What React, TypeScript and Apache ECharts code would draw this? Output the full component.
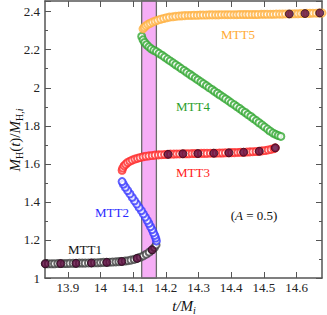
import React, { useEffect, useRef } from "react";
import * as echarts from "echarts";

// [t/M_i, M_H(t)/M_H,i]
const mtt1: number[][] = [
  [13.831, 1.075], [13.840, 1.075], [13.850, 1.075], [13.859, 1.075], [13.869, 1.076],
  [13.878, 1.076], [13.888, 1.076], [13.897, 1.076], [13.906, 1.077], [13.916, 1.077],
  [13.925, 1.077], [13.935, 1.078], [13.944, 1.078], [13.953, 1.078], [13.963, 1.079],
  [13.972, 1.079], [13.981, 1.080], [13.991, 1.080], [14.000, 1.081], [14.009, 1.082],
  [14.019, 1.082], [14.028, 1.083], [14.037, 1.084], [14.047, 1.085], [14.056, 1.086],
  [14.065, 1.087], [14.075, 1.089], [14.084, 1.091], [14.093, 1.094], [14.103, 1.098],
  [14.112, 1.103], [14.121, 1.109], [14.131, 1.116], [14.140, 1.125], [14.149, 1.136],
  [14.158, 1.148], [14.165, 1.160], [14.170, 1.174],
];

const mtt2: number[][] = [
  [14.171, 1.195], [14.169, 1.210], [14.166, 1.224], [14.162, 1.238], [14.158, 1.254],
  [14.153, 1.270], [14.148, 1.287], [14.143, 1.303], [14.137, 1.320], [14.131, 1.337],
  [14.125, 1.354], [14.118, 1.371], [14.111, 1.389], [14.104, 1.406], [14.097, 1.424],
  [14.090, 1.442], [14.083, 1.460], [14.076, 1.477], [14.070, 1.493], [14.066, 1.507],
];

const mtt3: number[][] = [
  [14.066, 1.566], [14.068, 1.578], [14.072, 1.589], [14.077, 1.598], [14.083, 1.607],
  [14.090, 1.614], [14.097, 1.620], [14.105, 1.625], [14.113, 1.629], [14.121, 1.633],
  [14.130, 1.637], [14.139, 1.640], [14.148, 1.642], [14.158, 1.644], [14.167, 1.646],
  [14.177, 1.647], [14.186, 1.648], [14.196, 1.649], [14.205, 1.650], [14.214, 1.651],
  [14.224, 1.651], [14.233, 1.652], [14.242, 1.652], [14.252, 1.653], [14.261, 1.653],
  [14.270, 1.653], [14.280, 1.654], [14.289, 1.654], [14.298, 1.654], [14.308, 1.655],
  [14.317, 1.655], [14.326, 1.655], [14.336, 1.656], [14.345, 1.656], [14.354, 1.656],
  [14.364, 1.657], [14.373, 1.657], [14.382, 1.658], [14.392, 1.658], [14.401, 1.659],
  [14.410, 1.659], [14.420, 1.660], [14.429, 1.661], [14.438, 1.661], [14.448, 1.662],
  [14.457, 1.663], [14.466, 1.664], [14.476, 1.665], [14.485, 1.666], [14.494, 1.668],
  [14.504, 1.670], [14.513, 1.673], [14.522, 1.676], [14.531, 1.680], [14.535, 1.684],
];

const mtt4: number[][] = [
  [14.126, 2.270], [14.130, 2.252], [14.135, 2.238], [14.141, 2.226], [14.148, 2.215],
  [14.155, 2.205], [14.163, 2.197], [14.171, 2.190], [14.179, 2.181], [14.188, 2.171],
  [14.196, 2.161], [14.205, 2.151], [14.213, 2.141], [14.222, 2.131], [14.230, 2.121],
  [14.239, 2.111], [14.247, 2.101], [14.256, 2.091], [14.264, 2.081], [14.273, 2.071],
  [14.281, 2.061], [14.290, 2.051], [14.298, 2.041], [14.307, 2.031], [14.315, 2.021],
  [14.324, 2.011], [14.332, 2.001], [14.341, 1.991], [14.349, 1.981], [14.358, 1.971],
  [14.366, 1.961], [14.375, 1.951], [14.383, 1.941], [14.392, 1.931], [14.400, 1.921],
  [14.409, 1.911], [14.417, 1.901], [14.426, 1.891], [14.434, 1.880], [14.443, 1.870],
  [14.451, 1.859], [14.460, 1.849], [14.468, 1.838], [14.477, 1.827], [14.485, 1.816],
  [14.494, 1.805], [14.502, 1.794], [14.511, 1.783], [14.519, 1.772], [14.528, 1.762],
  [14.536, 1.755], [14.544, 1.749], [14.552, 1.744],
];

const mtt5: number[][] = [
  [14.130, 2.310], [14.134, 2.318], [14.139, 2.326], [14.145, 2.333], [14.152, 2.339],
  [14.159, 2.345], [14.167, 2.350], [14.175, 2.355], [14.184, 2.360], [14.193, 2.364],
  [14.202, 2.368], [14.211, 2.371], [14.221, 2.373], [14.230, 2.375], [14.240, 2.377],
  [14.249, 2.378], [14.258, 2.379], [14.268, 2.380], [14.277, 2.380], [14.286, 2.381],
  [14.296, 2.381], [14.305, 2.382], [14.314, 2.382], [14.324, 2.382], [14.333, 2.383],
  [14.342, 2.383], [14.352, 2.383], [14.361, 2.383], [14.370, 2.384], [14.380, 2.384],
  [14.389, 2.384], [14.398, 2.384], [14.408, 2.384], [14.417, 2.384], [14.426, 2.385],
  [14.436, 2.385], [14.445, 2.385], [14.454, 2.385], [14.464, 2.385], [14.473, 2.385],
  [14.482, 2.385], [14.492, 2.386], [14.501, 2.386], [14.510, 2.386], [14.520, 2.386],
  [14.529, 2.386], [14.538, 2.387], [14.548, 2.387], [14.557, 2.387], [14.566, 2.388],
  [14.576, 2.388], [14.585, 2.388], [14.594, 2.389], [14.604, 2.389], [14.613, 2.390],
  [14.622, 2.390], [14.632, 2.391], [14.641, 2.391], [14.650, 2.392], [14.660, 2.392],
  [14.669, 2.393], [14.678, 2.393],
];

// stable-branch samples (filled dots)
const stable: number[][] = [
  [13.831, 1.075], [13.878, 1.076], [13.925, 1.077], [13.972, 1.079], [14.019, 1.082],
  [14.065, 1.087], [14.112, 1.103], [14.158, 1.148], [14.207, 1.650], [14.252, 1.653],
  [14.298, 1.654], [14.347, 1.656], [14.393, 1.658], [14.438, 1.661], [14.486, 1.666],
  [14.535, 1.684], [14.578, 2.388], [14.626, 2.390], [14.671, 2.393],
];

const band: number[] = [14.126, 14.171];
const xTicks: number[] = [13.9, 14.0, 14.1, 14.2, 14.3, 14.4, 14.5, 14.6];
const xRange: number[] = [13.83, 14.678];
const yRange: number[] = [1, 2.456];

const SERIF = "'Liberation Serif', 'Times New Roman', Times, serif";
const AXIS_COLOR = "#555";

export default function App() {
  const ref = useRef<HTMLDivElement>(null);
  useEffect(() => {
    if (!ref.current) return;
    const chart = echarts.init(ref.current, null, { renderer: "svg" });
    const openSeries = (name: string, data: number[][], color: string, z: number) => ({
      name,
      type: "scatter",
      data,
      symbol: "emptyCircle",
      symbolSize: 7,
      itemStyle: { color, borderColor: color, borderWidth: 0.8 },
      z,
      silent: true,
    });
    const commonX = {
      type: "value",
      min: xRange[0],
      max: xRange[1],
      splitLine: { show: false },
      axisLine: { show: true, lineStyle: { color: AXIS_COLOR, width: 1.5 } },
    };
    const commonY = {
      type: "value",
      min: yRange[0],
      max: yRange[1],
      interval: 0.2,
      splitLine: { show: false },
      axisLine: { show: true, lineStyle: { color: AXIS_COLOR, width: 1.5 } },
      axisTick: { show: true, inside: true, length: 6, lineStyle: { color: AXIS_COLOR } },
      minorTick: { show: true, splitNumber: 2, length: 3, lineStyle: { color: AXIS_COLOR } },
    };
    chart.setOption({
      animation: false,
      backgroundColor: "#fff",
      textStyle: { fontFamily: SERIF },
      grid: { left: 45, right: 5, top: 1, bottom: 37 },
      xAxis: [
        {
          ...commonX,
          position: "bottom",
          axisTick: { show: true, inside: true, length: 6, customValues: xTicks, lineStyle: { color: AXIS_COLOR } },
          axisLabel: {
            customValues: xTicks,
            color: "#222",
            fontFamily: SERIF,
            fontSize: 13,
            margin: 3,
          },
        },
        {
          ...commonX,
          position: "top",
          axisTick: { show: true, inside: true, length: 6, customValues: xTicks, lineStyle: { color: AXIS_COLOR } },
          axisLabel: { show: false, customValues: xTicks },
        },
      ],
      yAxis: [
        {
          ...commonY,
          position: "left",
          axisLabel: { color: "#222", fontFamily: SERIF, fontSize: 13, margin: 5, showMaxLabel: false },
        },
        {
          ...commonY,
          position: "right",
          axisLabel: { show: false },
        },
      ],
      series: [
        openSeries("MTT3", mtt3, "#ff2a2a", 2),
        openSeries("MTT4", mtt4, "#33a833", 2),
        {
          name: "band",
          type: "scatter",
          data: [],
          z: 3,
          silent: true,
          markArea: {
            silent: true,
            itemStyle: {
              color: "rgba(240,120,240,0.6)",
              borderColor: "#6a6a6a",
              borderWidth: 1.3,
            },
            data: [[{ xAxis: band[0] }, { xAxis: band[1] }]],
          },
        },
        openSeries("MTT1", mtt1, "#444444", 4),
        openSeries("MTT2", mtt2, "#3a3aff", 4),
        openSeries("MTT5", mtt5, "#ffb040", 4),
        {
          name: "stable",
          type: "scatter",
          data: stable,
          symbol: "circle",
          symbolSize: 8,
          itemStyle: { color: "#5c0a3e", borderColor: "#1a0010", borderWidth: 0.8 },
          z: 5,
          silent: true,
        },
      ],
      graphic: [
        { type: "text", x: 85, y: 249, z: 10, style: { text: "MTT1", fill: "#111", font: `13px ${SERIF}`, align: "center", verticalAlign: "middle" } },
        { type: "text", x: 112, y: 212, z: 10, style: { text: "MTT2", fill: "#2a2aff", font: `13px ${SERIF}`, align: "center", verticalAlign: "middle" } },
        { type: "text", x: 193, y: 172, z: 10, style: { text: "MTT3", fill: "#ff2020", font: `13px ${SERIF}`, align: "center", verticalAlign: "middle" } },
        { type: "text", x: 193, y: 106, z: 10, style: { text: "MTT4", fill: "#2ca02c", font: `13px ${SERIF}`, align: "center", verticalAlign: "middle" } },
        { type: "text", x: 238, y: 34, z: 10, style: { text: "MTT5", fill: "#ffaa33", font: `13px ${SERIF}`, align: "center", verticalAlign: "middle" } },
        {
          type: "text", x: 254, y: 215, z: 10,
          style: {
            text: "{n|(}{it|A}{n| = 0.5)}",
            align: "center", verticalAlign: "middle",
            rich: {
              n: { fontFamily: SERIF, fontSize: 13, fill: "#111", color: "#111" },
              it: { fontFamily: SERIF, fontSize: 13, fontStyle: "italic", fill: "#111", color: "#111" },
            },
          },
        },
        {
          type: "text", x: 184, y: 306, z: 10,
          style: {
            text: "{it|t/M}{sub|i}",
            align: "center", verticalAlign: "middle",
            rich: {
              it: { fontFamily: SERIF, fontSize: 15, fontStyle: "italic", color: "#111", fill: "#111", lineHeight: 18, verticalAlign: "middle" },
              sub: { fontFamily: SERIF, fontSize: 10, fontStyle: "italic", color: "#111", fill: "#111", lineHeight: 18, verticalAlign: "bottom" },
            },
          },
        },
        {
          type: "text", x: 15, y: 140, z: 10, rotation: Math.PI / 2,
          style: {
            text: "{it|M}{sub|H}{n|(}{it|t}{n|)/}{it|M}{sub|H,}{subi|i}",
            align: "center", verticalAlign: "middle",
            rich: {
              it: { fontFamily: SERIF, fontSize: 15, fontStyle: "italic", color: "#111", fill: "#111", lineHeight: 18, verticalAlign: "middle" },
              n: { fontFamily: SERIF, fontSize: 15, color: "#111", fill: "#111", lineHeight: 18, verticalAlign: "middle" },
              sub: { fontFamily: SERIF, fontSize: 10, color: "#111", fill: "#111", lineHeight: 18, verticalAlign: "bottom" },
              subi: { fontFamily: SERIF, fontSize: 10, fontStyle: "italic", color: "#111", fill: "#111", lineHeight: 18, verticalAlign: "bottom" },
            },
          },
        },
      ],
    });
    return () => chart.dispose();
  }, []);
  return (
    <div
      ref={ref}
      style={{ position: "absolute", left: 0, top: 0, width: 327, height: 315 }}
    />
  );
}
